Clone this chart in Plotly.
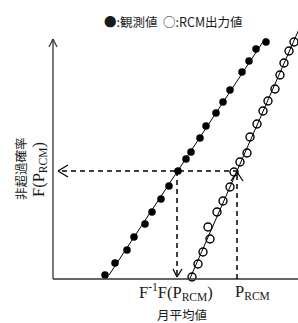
import numpy as np
import plotly.graph_objects as go

# Observed (filled) points: x = monthly mean (arbitrary units), y = non-exceedance level (arbitrary units)
obs_x = [52, 62, 74, 81, 92, 99, 108, 116, 125, 133, 138, 147, 153, 163, 170, 177, 189, 196, 203, 213]
obs_y = [4, 16, 29, 42, 55, 67, 80, 93, 108, 120, 127, 141, 153, 166, 177, 189, 207, 218, 230, 237]

# RCM output (open) points
rcm_x = [139, 145, 150, 157, 155, 164, 170, 177, 181, 187, 194, 197, 204, 210, 215, 222, 227, 231, 236, 241]
rcm_y = [2, 15, 27, 40, 52, 67, 78, 92, 107, 117, 126, 142, 155, 168, 178, 190, 204, 216, 228, 237]

# Quantile mapping illustration values
p_rcm = 184        # P_RCM on x axis
f_p_rcm = 108      # F(P_RCM) on y axis
finv_f = 124       # F^-1 F(P_RCM) on x axis

y_top = 240
x_max = 245

fig = go.Figure()

# fitted lines (x as a linear function of y)
for xs, ys, y0, y1 in [(obs_x, obs_y, 4, 241), (rcm_x, rcm_y, 0, 252)]:
    a, b = np.polyfit(ys, xs, 1)
    yy = np.array([y0, y1])
    fig.add_trace(go.Scatter(x=a * yy + b, y=yy, mode="lines",
                             line=dict(color="black", width=1), hoverinfo="skip"))

fig.add_trace(go.Scatter(x=obs_x, y=obs_y, mode="markers",
                         marker=dict(symbol="circle", size=7.5, color="black")))
fig.add_trace(go.Scatter(x=rcm_x, y=rcm_y, mode="markers",
                         marker=dict(symbol="circle-open", size=8, color="black",
                                     line=dict(width=1.4, color="black"))))

shapes = []
ax = dict(color="#333333", width=1.3)
# axes
shapes.append(dict(type="line", x0=0, y0=0, x1=0, y1=y_top, line=ax))
shapes.append(dict(type="line", x0=0, y0=0, x1=x_max, y1=0, line=ax))
shapes.append(dict(type="line", x0=-4, y0=y_top - 8, x1=0, y1=y_top, line=ax))
shapes.append(dict(type="line", x0=4, y0=y_top - 8, x1=0, y1=y_top, line=ax))

dl = dict(color="black", width=1.5, dash="5px,4px")
shapes.append(dict(type="line", x0=9, y0=f_p_rcm, x1=p_rcm, y1=f_p_rcm, line=dl))
shapes.append(dict(type="line", x0=p_rcm, y0=0, x1=p_rcm, y1=f_p_rcm - 2, line=dl))
shapes.append(dict(type="line", x0=finv_f, y0=f_p_rcm, x1=finv_f, y1=3, line=dl))

hl = dict(color="black", width=1.3)
shapes.append(dict(type="line", x0=5, y0=f_p_rcm, x1=15, y1=f_p_rcm + 6, line=hl))
shapes.append(dict(type="line", x0=5, y0=f_p_rcm, x1=15, y1=f_p_rcm - 6, line=hl))
shapes.append(dict(type="line", x0=finv_f, y0=2, x1=finv_f - 4, y1=10, line=hl))
shapes.append(dict(type="line", x0=finv_f, y0=2, x1=finv_f + 5, y1=10, line=hl))
shapes.append(dict(type="line", x0=p_rcm, y0=f_p_rcm - 1, x1=p_rcm + 6, y1=f_p_rcm - 10, line=hl))
shapes.append(dict(type="line", x0=p_rcm, y0=f_p_rcm - 1, x1=p_rcm - 6, y1=f_p_rcm - 10, line=hl))

jp = "Noto Sans CJK JP"
serif = "Liberation Serif"
txt = "#1a1a1a"
annotations = [
    dict(x=120, y=258, text="●:観測値  ○:RCM出力値", showarrow=False,
         font=dict(family=jp, size=12.5, color=txt)),
    dict(x=-33, y=110, text="非超過確率", textangle=-90, showarrow=False,
         font=dict(family=jp, size=12.5, color=txt)),
    dict(x=-14, y=109, text="F(P<sub>RCM</sub>)", textangle=-90, showarrow=False,
         font=dict(family=serif, size=16.5, color=txt)),
    dict(x=122.5, y=-13, text="F<sup>-1</sup>F(P<sub>RCM</sub>)", showarrow=False,
         font=dict(family=serif, size=16.5, color=txt)),
    dict(x=199.5, y=-13, text="P<sub>RCM</sub>", showarrow=False,
         font=dict(family=serif, size=16.5, color=txt)),
    dict(x=129, y=-35.5, text="月平均値", showarrow=False, borderpad=0,
         font=dict(family=jp, size=12.5, color=txt)),
]

fig.update_layout(
    width=298, height=323,
    margin=dict(l=0, r=0, t=0, b=0, pad=0),
    paper_bgcolor="white", plot_bgcolor="white",
    showlegend=False,
    xaxis=dict(range=[-53, 245], visible=False, fixedrange=True),
    yaxis=dict(range=[-44, 279], visible=False, fixedrange=True),
    shapes=shapes,
    annotations=annotations,
)

fig.write_html("out.html", config={"displayModeBar": False},
               post_script="document.body.style.margin='0';")
